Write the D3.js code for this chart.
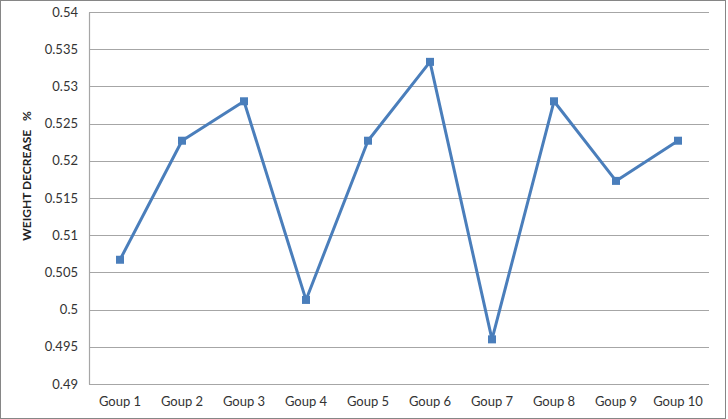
<!DOCTYPE html>
<html>
<head>
<meta charset="utf-8">
<script src="https://cdn.jsdelivr.net/npm/d3@7"></script>
<style>
  body { margin: 0; background: #fff; }
  svg { display: block; }
  svg text { font-family: Lato, "Open Sans", sans-serif; }
</style>
</head>
<body>
<script>
const groups = ["Goup 1", "Goup 2", "Goup 3", "Goup 4", "Goup 5", "Goup 6", "Goup 7", "Goup 8", "Goup 9", "Goup 10"];
const weightDecrease = [0.5067, 0.5227, 0.528, 0.5013, 0.5227, 0.5333, 0.496, 0.528, 0.5173, 0.5227];
const yTicks = [0.49, 0.495, 0.5, 0.505, 0.51, 0.515, 0.52, 0.525, 0.53, 0.535, 0.54];
const yTitle = "WEIGHT DECREASE\u00a0\u00a0\u00a0%";

const width = 728, height = 419;
const margin = {top: 12, right: 19, bottom: 35, left: 89};

const svg = d3.select("body").append("svg")
    .attr("width", width)
    .attr("height", height);

// outer chart frame
svg.append("rect")
    .attr("x", 0.5).attr("y", 0.5)
    .attr("width", width - 3).attr("height", height - 1)
    .attr("fill", "#fff")
    .attr("stroke", "#868686");

const x = d3.scaleBand()
    .domain(groups)
    .range([margin.left, width - margin.right]);

const y = d3.scaleLinear()
    .domain([0.49, 0.54])
    .range([height - margin.bottom, margin.top]);

// gridlines
svg.append("g")
    .selectAll("line")
    .data(yTicks)
    .join("line")
    .attr("x1", margin.left)
    .attr("x2", width - margin.right)
    .attr("y1", d => Math.round(y(d)) + 0.5)
    .attr("y2", d => Math.round(y(d)) + 0.5)
    .attr("stroke", "#a6a6a6")
    .attr("stroke-width", 1.2);

// y axis
const yAxis = svg.append("g")
    .attr("transform", "translate(" + margin.left + ",0)")
    .call(d3.axisLeft(y).tickValues(yTicks).tickSize(0).tickPadding(11).tickFormat(d => String(+d.toFixed(3))));
yAxis.attr("font-family", null).attr("font-size", 13);
yAxis.select(".domain").attr("stroke", "#a6a6a6").attr("stroke-width", 1.2);
yAxis.selectAll("text").attr("fill", "#333");

// x axis
const xAxis = svg.append("g")
    .attr("transform", "translate(0," + (height - margin.bottom) + ")")
    .call(d3.axisBottom(x).tickSize(0).tickPadding(13));
xAxis.attr("font-family", null).attr("font-size", 13);
xAxis.select(".domain").remove();
xAxis.selectAll("text").attr("fill", "#333");

// y title
svg.append("text")
    .attr("transform", "translate(31,176) rotate(-90)")
    .attr("text-anchor", "middle")
    .attr("font-size", 12)
    .attr("font-weight", "bold")
    .attr("fill", "#222")
    .text(yTitle);

const line = d3.line()
    .x((d, i) => x(groups[i]) + x.bandwidth() / 2)
    .y(d => y(d));

svg.append("path")
    .datum(weightDecrease)
    .attr("d", line)
    .attr("fill", "none")
    .attr("stroke", "#4a7ebb")
    .attr("stroke-width", 3)
    .attr("stroke-linejoin", "round");

svg.append("g")
    .selectAll("rect")
    .data(weightDecrease)
    .join("rect")
    .attr("x", (d, i) => x(groups[i]) + x.bandwidth() / 2 - 4)
    .attr("y", d => y(d) - 4)
    .attr("width", 8)
    .attr("height", 8)
    .attr("fill", "#4a7ebb");
</script>
</body>
</html>
